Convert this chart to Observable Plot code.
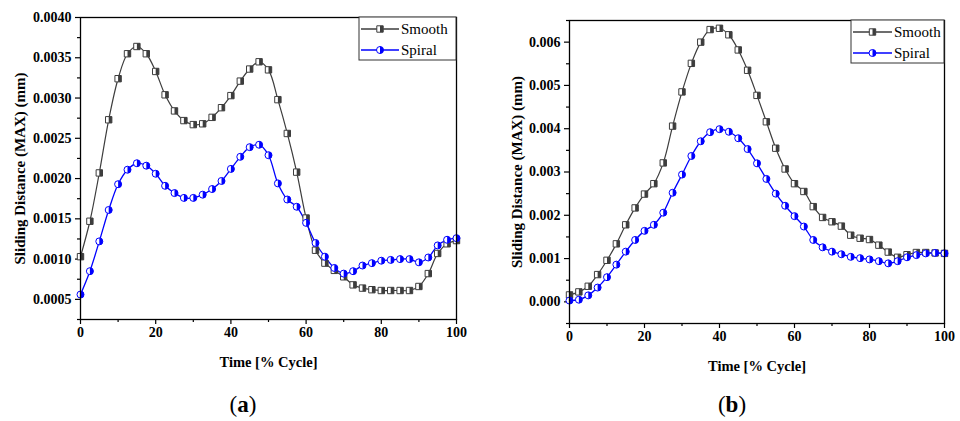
<!DOCTYPE html>
<html><head><meta charset="utf-8">
<script src="https://cdn.jsdelivr.net/npm/d3@7"></script>
<script src="https://cdn.jsdelivr.net/npm/@observablehq/plot@0.6"></script>
<style>
body{margin:0;background:#fff;}
#wrap{position:relative;width:960px;height:421px;overflow:hidden;background:#fff;}
.panel{position:absolute;top:0;}
.cap{position:absolute;font-family:"Liberation Serif",serif;font-size:23px;transform:translate(-50%,-50%);white-space:nowrap;}
</style></head><body><div id="wrap"></div>
<script>
const time = [0,2.5,5,7.5,10,12.5,15,17.5,20,22.5,25,27.5,30,32.5,35,37.5,40,42.5,45,47.5,50,52.5,55,57.5,60,62.5,65,67.5,70,72.5,75,77.5,80,82.5,85,87.5,90,92.5,95,97.5,100];

const smoothA = [0.00103,0.00147,0.00207,0.00273,0.00324,0.00355,0.00364,0.00355,0.00333,0.00304,0.00284,0.00272,0.00267,0.00268,0.00276,0.00288,0.00303,0.00321,0.00336,0.00345,0.00335,0.00298,0.00256,0.00208,0.00151,0.00111,0.00095,0.00086,0.00078,0.00068,0.00064,0.00062,0.00061,0.00061,0.00061,0.00061,0.00066,0.00082,0.00107,0.00119,0.00123];
const spiralA = [0.00056,0.00085,0.00122,0.00161,0.00193,0.00211,0.00219,0.00216,0.00206,0.00191,0.00182,0.00176,0.00176,0.00180,0.00187,0.00197,0.00212,0.00227,0.00239,0.00242,0.00229,0.00194,0.00174,0.00165,0.00145,0.00120,0.00103,0.00089,0.00082,0.00085,0.00092,0.00095,0.00098,0.00099,0.00100,0.00100,0.00096,0.00102,0.00117,0.00124,0.00126];

const smoothB = [0.00016,0.00023,0.00036,0.00063,0.00096,0.00134,0.00178,0.00217,0.00249,0.00273,0.00321,0.00406,0.00485,0.00551,0.00600,0.00629,0.00632,0.00617,0.00582,0.00535,0.00477,0.00416,0.00355,0.00307,0.00273,0.00255,0.00220,0.00195,0.00185,0.00175,0.00154,0.00147,0.00144,0.00131,0.00115,0.00103,0.00109,0.00114,0.00114,0.00113,0.00112];
const spiralB = [0.00003,0.00005,0.00015,0.00033,0.00057,0.00086,0.00116,0.00143,0.00164,0.00178,0.00206,0.00252,0.00294,0.00337,0.00371,0.00392,0.00399,0.00393,0.00378,0.00353,0.00320,0.00284,0.00250,0.00222,0.00198,0.00174,0.00143,0.00126,0.00116,0.00110,0.00104,0.00101,0.00098,0.00094,0.00089,0.00094,0.00103,0.00108,0.00112,0.00113,0.00112];

const seriesNames = ["Smooth","Spiral"];
const xTicks = [0,20,40,60,80,100];
const xMinorTicks = [10,30,50,70,90];
const yTicksA = [0.0005,0.0010,0.0015,0.0020,0.0025,0.0030,0.0035,0.0040];
const yMinorA = [0.00025,0.00075,0.00125,0.00175,0.00225,0.00275,0.00325,0.00375];
const yTicksB = [0,0.001,0.002,0.003,0.004,0.005,0.006];
const yMinorB = [-0.0005,0.0005,0.0015,0.0025,0.0035,0.0045,0.0055,0.0065];
const xLabel = "Time [% Cycle]";
const yLabel = "Sliding Distance (MAX) (mm)";

const GRAY = "#3d3d3d", BLUE = "#0000ff";
const sq = {draw(c,size){const s=Math.sqrt(size)/2;c.moveTo(-s,-s);c.lineTo(s,-s);c.lineTo(s,s);c.lineTo(-s,s);c.closePath();}};
const sqR = {draw(c,size){const s=Math.sqrt(size)/2;c.moveTo(0,-s);c.lineTo(s,-s);c.lineTo(s,s);c.lineTo(0,s);c.closePath();}};
const ci = {draw(c,size){const r=Math.sqrt(size/Math.PI);c.moveTo(r,0);c.arc(0,0,r,0,2*Math.PI);c.closePath();}};
const ciR = {draw(c,size){const r=Math.sqrt(size/Math.PI);c.moveTo(0,-r);c.arc(0,0,r,-Math.PI/2,Math.PI/2);c.closePath();}};

function panel(o){
  const sm = time.map((t,i)=>({t, v:o.smooth[i]}));
  const sp = time.map((t,i)=>({t, v:o.spiral[i]}));
  const font = {fontFamily:"Liberation Serif, serif", fontWeight:"bold"};
  const chart = Plot.plot({
    width:o.width, height:o.height,
    marginLeft:o.ml, marginRight:o.mr, marginTop:o.mt, marginBottom:o.mb,
    style:{fontFamily:"Liberation Serif, serif", fontSize:"14px", fontWeight:"bold", color:"#000", background:"#fff", overflow:"visible"},
    x:{domain:[0,100]},
    y:{domain:o.yDomain},
    marks:[
      Plot.axisX({ticks:xTicks, tickSize:5, tickPadding:3, label:null, stroke:"#000", strokeWidth:1.2, fill:"#000"}),
      Plot.axisX({ticks:xMinorTicks, tickSize:3, tickFormat:()=>"", label:null, stroke:"#000", strokeWidth:1.2}),
      Plot.axisY({ticks:o.yTicks, tickSize:5, tickPadding:4, tickFormat:d3.format(o.fmt), label:null, stroke:"#000", strokeWidth:1.2, fill:"#000"}),
      Plot.axisY({ticks:o.yMinor, tickSize:3, tickFormat:()=>"", label:null, stroke:"#000", strokeWidth:1.2}),
      Plot.line(sm, {x:"t", y:"v", stroke:GRAY, strokeWidth:1.2, curve:"catmull-rom"}),
      Plot.line(sp, {x:"t", y:"v", stroke:BLUE, strokeWidth:1.3, curve:"catmull-rom"}),
      Plot.dot(sm, {x:"t", y:"v", symbol:sq, r:3.6, fill:"#fff", stroke:GRAY, strokeWidth:1}),
      Plot.dot(sm, {x:"t", y:"v", symbol:sqR, r:3.6, fill:GRAY, stroke:"none"}),
      Plot.dot(sp, {x:"t", y:"v", symbol:ci, r:3.5, fill:"#fff", stroke:BLUE, strokeWidth:1}),
      Plot.dot(sp, {x:"t", y:"v", symbol:ciR, r:3.5, fill:BLUE, stroke:"none"}),
      Plot.frame({stroke:"#000", strokeWidth:1.3}),
      Plot.text([xLabel], {text:d=>d, frameAnchor:"bottom", textAnchor:"middle", dy:47, fontSize:14.5, ...font, fill:"#000"}),
      Plot.text([yLabel], {text:d=>d, frameAnchor:"left", textAnchor:"middle", rotate:-90, dx:o.ylOff, fontSize:15, ...font, fill:"#000"})
    ]
  });
  // legend (inside frame, top-right corner)
  const svg = d3.select(chart);
  const fr = o.width - o.mr, top = o.mt;
  const lw = o.legW, lh = 43;
  const g = svg.append("g").attr("transform", `translate(${fr - lw},${top})`);
  g.append("rect").attr("x",0).attr("y",0).attr("width",lw).attr("height",lh).attr("fill","#fff").attr("stroke","#333").attr("stroke-width",1);
  const rowsL = [
    {name:seriesNames[0], c:GRAY, full:sq, half:sqR, r:3.6},
    {name:seriesNames[1], c:BLUE, full:ci, half:ciR, r:3.5}
  ];
  rowsL.forEach((d,i)=>{
    const y = 12 + i*21;
    g.append("line").attr("x1",2).attr("x2",o.lineEnd).attr("y1",y).attr("y2",y).attr("stroke",d.c).attr("stroke-width",1.3);
    const cx = (2+o.lineEnd)/2;
    g.append("path").attr("d", d3.symbol(d.full, d.r*d.r*Math.PI)()).attr("transform",`translate(${cx},${y})`).attr("fill","#fff").attr("stroke",d.c);
    g.append("path").attr("d", d3.symbol(d.half, d.r*d.r*Math.PI)()).attr("transform",`translate(${cx},${y})`).attr("fill",d.c);
    g.append("text").attr("x",o.lineEnd+2).attr("y",y).attr("dy","0.35em").attr("text-anchor","start").attr("font-family","Liberation Serif, serif").attr("font-weight","normal").attr("font-size",15).attr("fill","#000").text(d.name);
  });
  return chart;
}

const wrap = document.getElementById("wrap");
function place(node, left){ const d=document.createElement("div"); d.className="panel"; d.style.left=left+"px"; d.appendChild(node); wrap.appendChild(d); }

place(panel({smooth:smoothA, spiral:spiralA, yDomain:[0.00025,0.0040], yTicks:yTicksA, yMinor:yMinorA, fmt:".4f",
  width:480, height:380, ml:80, mr:24, mt:17, mb:61, ylOff:-60, legW:97, lineEnd:40}), 0);
place(panel({smooth:smoothB, spiral:spiralB, yDomain:[-0.0005,0.0065], yTicks:yTicksB, yMinor:yMinorB, fmt:".3f",
  width:480, height:383, ml:89, mr:16, mt:20, mb:60, ylOff:-52, legW:93, lineEnd:41}), 480);

function cap(letter, x, y){ const d=document.createElement("div"); d.className="cap"; d.style.left=x+"px"; d.style.top=y+"px"; d.innerHTML="(<b>"+letter+"</b>)"; wrap.appendChild(d); }
cap("a", 243, 405);
cap("b", 732, 405);
</script></body></html>
